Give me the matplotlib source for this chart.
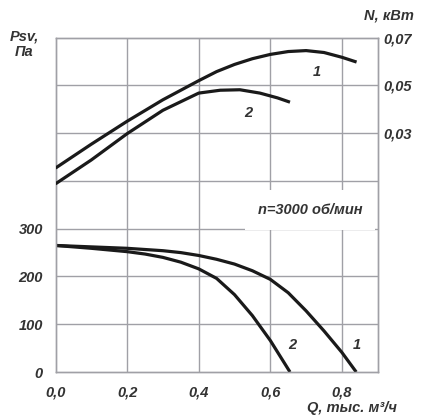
import matplotlib
matplotlib.use("Agg")
import matplotlib.pyplot as plt

# Pressure curves (Psv, Pa) vs Q (thousand m3/h)
q_p1 = [0.0, 0.1, 0.2, 0.3, 0.35, 0.4, 0.45, 0.5, 0.55, 0.6, 0.65, 0.7, 0.75, 0.8, 0.84]
p1 = [265, 262, 259, 254, 250, 244, 236, 226, 212, 194, 166, 128, 86, 41, 0]
q_p2 = [0.0, 0.1, 0.2, 0.25, 0.3, 0.35, 0.4, 0.45, 0.5, 0.55, 0.6, 0.655]
p2 = [265, 259, 252, 247, 240, 230, 216, 196, 162, 118, 66, 0]

# Power curves (N, kW) vs Q
q_n1 = [0.0, 0.1, 0.2, 0.3, 0.4, 0.45, 0.5, 0.55, 0.6, 0.65, 0.7, 0.75, 0.8, 0.841]
n1 = [0.0154, 0.0254, 0.0350, 0.0440, 0.0520, 0.0558, 0.0588, 0.0612, 0.0630, 0.0642, 0.0646, 0.0638, 0.0618, 0.0598]
q_n2 = [0.0, 0.1, 0.2, 0.3, 0.4, 0.46, 0.515, 0.571, 0.62, 0.655]
n2 = [0.0088, 0.0188, 0.0298, 0.0396, 0.0468, 0.0480, 0.0482, 0.0468, 0.0448, 0.0430]

x_ticks = [0.0, 0.2, 0.4, 0.6, 0.8]
x_labels = ["0,0", "0,2", "0,4", "0,6", "0,8"]
p_ticks = [0, 100, 200, 300]
p_labels = ["0", "100", "200", "300"]
n_ticks = [0.03, 0.05, 0.07]
n_labels = ["0,03", "0,05", "0,07"]

FONT = "Liberation Sans"
TXT = "#333333"
GRID = "#a0a0a6"

fig = plt.figure(figsize=(4.22, 4.19), dpi=100)
ax = fig.add_axes([55.5 / 422, 1 - 372 / 419, (377.7 - 55.5) / 422, (372 - 37.7) / 419])
ax.set_xlim(0, 0.9)
ax.set_ylim(0, 700)
ax2 = ax.twinx()
ax2.set_ylim(-0.07, 0.07)

for y in range(100, 700, 100):
    ax.axhline(y, color=GRID, lw=1.0, zorder=1)
for x in x_ticks[1:]:
    ax.axvline(x, color=GRID, lw=1.0, zorder=1)
for a in (ax, ax2):
    for s in a.spines.values():
        s.set_color(GRID)
        s.set_linewidth(1.0)

kw = dict(color="#1a1a1a", lw=2.3, zorder=3, solid_capstyle="butt", solid_joinstyle="round")
ax.plot(q_p1, p1, **kw)
ax.plot(q_p2, p2, **kw)
ax2.plot(q_n1, n1, **kw)
ax2.plot(q_n2, n2, **kw)

fp = dict(family=FONT, weight="bold", style="italic", color=TXT, size=10.5)

ax.set_xticks(x_ticks)
ax.set_xticklabels(x_labels, **fp)
ax.set_yticks(p_ticks)
ax.set_yticklabels(p_labels, **fp)
ax2.set_yticks(n_ticks)
ax2.set_yticklabels(n_labels, **fp)
ax.tick_params(axis="x", length=0, pad=10)
ax.tick_params(axis="y", length=0, pad=9)
ax2.tick_params(axis="y", length=0, pad=4)

def px(x, y):
    return (x / 422, 1 - y / 419)

fig.text(*px(24, 44), "Psv,\nПа", ha="center", va="center", linespacing=1.1, **fp)
fig.text(*px(389, 16), "N, кВт", ha="center", va="center", **fp)
fig.text(*px(351.5, 408), "Q, тыс. м³/ч", ha="center", va="center", **fp)
fig.text(*px(310, 210), "n=3000 об/мин", ha="center", va="center",
         bbox=dict(facecolor="white", edgecolor="none", pad=9), **fp)

fig.text(*px(317.3, 71.7), "1", ha="center", va="center", **fp)
fig.text(*px(248.3, 113.3), "2", ha="center", va="center", **fp)
fig.text(*px(356.7, 345), "1", ha="center", va="center", **fp)
fig.text(*px(292.7, 345), "2", ha="center", va="center", **fp)

fig.savefig("out.png", dpi=100)
